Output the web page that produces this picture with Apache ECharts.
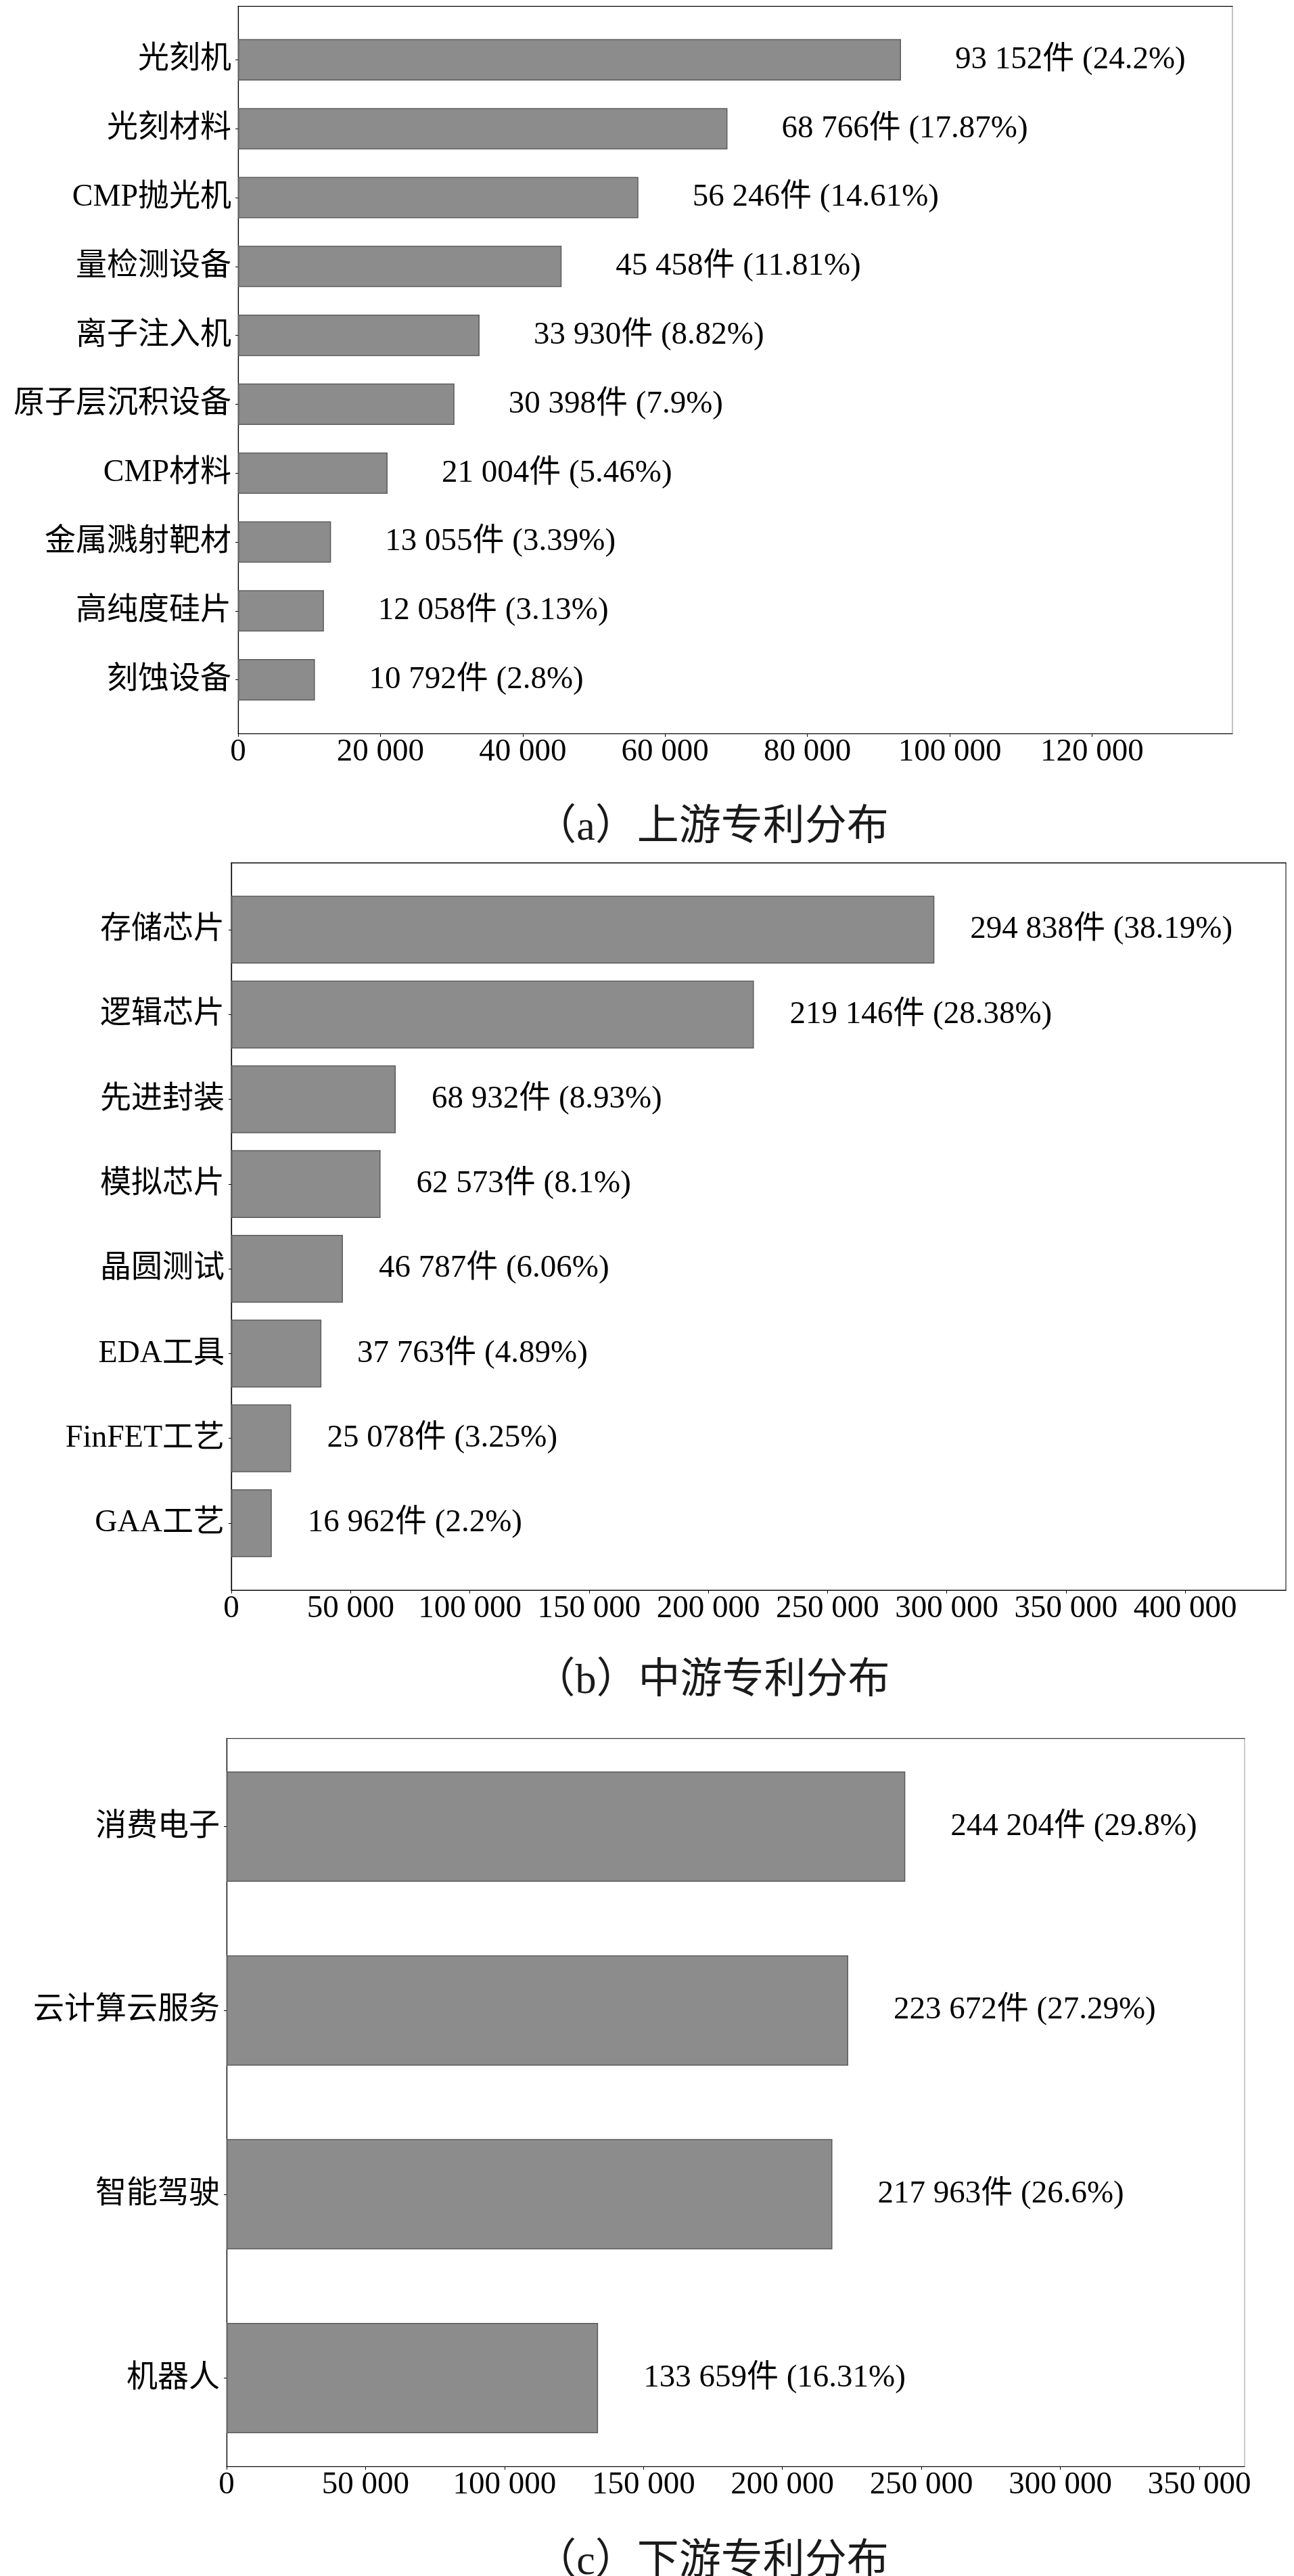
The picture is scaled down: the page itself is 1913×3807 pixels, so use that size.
<!DOCTYPE html>
<html>
<head>
<meta charset="utf-8">
<script src="https://cdn.jsdelivr.net/npm/echarts@6/dist/echarts.min.js"></script>
<style>
html,body{margin:0;padding:0;background:#fff;}
#chart{width:1913px;height:3807px;}
</style>
</head>
<body>
<div id="chart"></div>
<script>
// (a) upstream
var catsA = ['光刻机','光刻材料','CMP抛光机','量检测设备','离子注入机','原子层沉积设备','CMP材料','金属溅射靶材','高纯度硅片','刻蚀设备'];
var valsA = [93152,68766,56246,45458,33930,30398,21004,13055,12058,10792];
var pctsA = [24.2,17.87,14.61,11.81,8.82,7.9,5.46,3.39,3.13,2.8];
var ticksA = [0,20000,40000,60000,80000,100000,120000];

// (b) midstream
var catsB = ['存储芯片','逻辑芯片','先进封装','模拟芯片','晶圆测试','EDA工具','FinFET工艺','GAA工艺'];
var valsB = [294838,219146,68932,62573,46787,37763,25078,16962];
var pctsB = [38.19,28.38,8.93,8.1,6.06,4.89,3.25,2.2];
var ticksB = [0,50000,100000,150000,200000,250000,300000,350000,400000];

// (c) downstream
var catsC = ['消费电子','云计算云服务','智能驾驶','机器人'];
var valsC = [244204,223672,217963,133659];
var pctsC = [29.8,27.29,26.6,16.31];
var ticksC = [0,50000,100000,150000,200000,250000,300000,350000];

var captions = ['（a）上游专利分布','（b）中游专利分布','（c）下游专利分布'];

var panels = [
  {cats:catsA, vals:valsA, pcts:pctsA, ticks:ticksA},
  {cats:catsB, vals:valsB, pcts:pctsB, ticks:ticksB},
  {cats:catsC, vals:valsC, pcts:pctsC, ticks:ticksC}
];

// frame boxes in px, bar thickness as share of band, label gap
var layout = [
  {left:352, right:1822, top:9,    bottom:1084, barFrac:0.6, gap:80, topLine:'#000', rightLine:'#999', capY:1220},
  {left:342, right:1901, top:1275, bottom:2350, barFrac:0.8, gap:53, topLine:'#000', rightLine:'#222', capY:2481},
  {left:335, right:1840, top:2569, bottom:3645, barFrac:0.6, gap:67, topLine:'#333', rightLine:'#aaa', capY:3783}
];

var FONT = '"Liberation Serif","Times New Roman","Noto Sans CJK SC",serif';

function fmt(v){
  return String(v).replace(/\B(?=(\d{3})+(?!\d))/g, ' ');
}

var option = {
  animation:false,
  backgroundColor:'#fff',
  title:[], grid:[], xAxis:[], yAxis:[], series:[]
};

panels.forEach(function(p, i){
  var L = layout[i];
  var n = p.cats.length;
  var R = n - 1 + L.barFrac;           // data span of the bars
  var H = L.bottom - L.top;
  var unit = H / (R * 1.1);            // 5% margin each side
  var off = (L.barFrac / 2 + 0.05 * R - 0.5) * unit;
  var max = Math.max.apply(null, p.vals) * 1.5;
  var W = L.right - L.left;

  option.grid.push({left:L.left, top:L.top, width:W, height:H, show:true,
    borderColor:L.rightLine, borderWidth:1.2, backgroundColor:'transparent', outerBoundsMode:'none'});
  option.grid.push({left:L.left, top:L.top + off, width:W, height:n * unit, outerBoundsMode:'none'});

  // frame: bottom value axis
  option.xAxis.push({
    gridIndex:i*2, type:'value', position:'bottom', min:0, max:max,
    axisLine:{show:true, onZero:false, lineStyle:{color:'#000', width:1.2}},
    axisTick:{show:true, length:5, customValues:p.ticks, lineStyle:{color:'#000', width:1}},
    axisLabel:{show:true, customValues:p.ticks, margin:4, color:'#000', fontSize:47, fontFamily:FONT,
      formatter:function(v){ return fmt(v); }},
    splitLine:{show:false}
  });
  // frame: top line
  option.xAxis.push({
    gridIndex:i*2, type:'value', position:'top', min:0, max:max,
    axisLine:{show:true, onZero:false, lineStyle:{color:L.topLine, width:1.2}},
    axisTick:{show:false}, axisLabel:{show:false}, splitLine:{show:false}
  });
  // bars x
  option.xAxis.push({gridIndex:i*2+1, type:'value', min:0, max:max, show:false});

  option.yAxis.push({
    gridIndex:i*2, type:'value', min:0, max:1,
    axisLine:{show:true, onZero:false, lineStyle:{color:'#000', width:1.2}},
    axisTick:{show:false}, axisLabel:{show:false}, splitLine:{show:false}
  });
  option.yAxis.push({
    gridIndex:i*2+1, type:'category', inverse:true, data:p.cats,
    axisLine:{show:false},
    axisTick:{show:true, alignWithLabel:true, length:4, lineStyle:{color:'#000', width:1}},
    axisLabel:{margin:10, color:'#000', fontSize:46, fontFamily:FONT}
  });

  option.series.push({
    type:'bar', xAxisIndex:i*3+2, yAxisIndex:i*2+1,
    data:p.vals, barWidth:(L.barFrac*100)+'%',
    itemStyle:{color:'#8c8c8c', borderColor:'#5c5c5c', borderWidth:1.5},
    label:{show:true, position:'right', distance:L.gap, color:'#000', fontSize:47, fontFamily:FONT,
      formatter:function(d){ return fmt(d.value) + '件 (' + p.pcts[d.dataIndex] + '%)'; }}
  });

  option.title.push({
    text:captions[i], left:1047, top:L.capY - 31, textAlign:'center',
    textStyle:{fontSize:62, fontWeight:'normal', color:'#1a1a1a', fontFamily:FONT, lineHeight:62}
  });
});

var chart = echarts.init(document.getElementById('chart'), null, {renderer:'canvas'});
chart.setOption(option);
</script>
</body>
</html>
